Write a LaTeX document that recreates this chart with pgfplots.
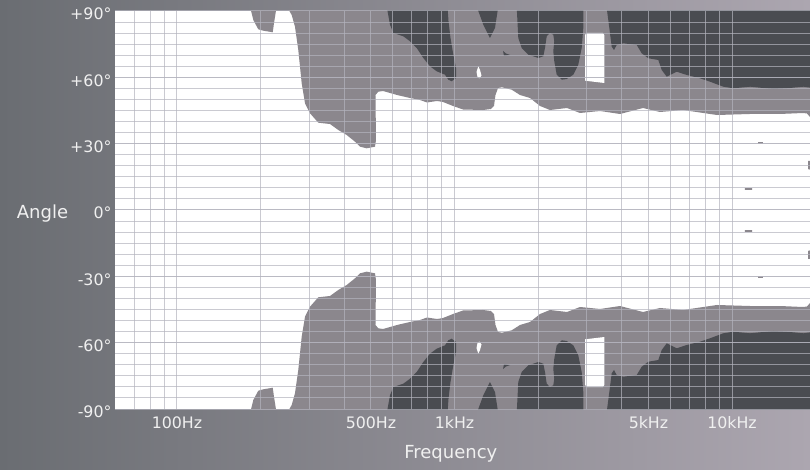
\documentclass[border=0pt]{standalone}
\usepackage{fontspec}
\setmainfont{DejaVu Sans}
\usepackage{pgfplots}
\usepackage{pgfplotstable}
\pgfplotsset{compat=1.18}
\definecolor{midg}{RGB}{139,135,141}
\definecolor{darkg}{RGB}{74,76,81}
\definecolor{gridc}{RGB}{180,180,190}
\definecolor{bgl}{RGB}{106,109,114}
\definecolor{bgr}{RGB}{172,166,176}
\definecolor{txt}{RGB}{240,240,240}

% x = log10(frequency in Hz), a = angle in degrees (upper half; lower half mirrored)
\pgfplotstableread{
f a
2.263 92
2.275 85.93
2.293 81.72
2.311 81.09
2.345 80.37
2.3495 84.44
2.359 92
}\tblNotch
\pgfplotstableread{
f a
2.3964 92
2.4133 88.19
2.4252 82.90
2.4371 72.36
2.4494 57.30
2.4613 48.26
2.4793 43.73
2.5092 39.48
2.5514 38.89
2.5813 36.18
2.6115 33.92
2.6414 30.89
2.6595 28.63
2.6836 27.90
2.7135 28.63
2.7171 31.66
2.7153 52.01
2.7254 53.50
2.7423 53.82
2.7928 52.01
2.8396 50.65
2.8757 49.75
2.9009 48.62
2.9369 49.30
2.9586 48.84
2.9946 47.04
3.0306 45.45
3.1027 45.22
3.1315 45.68
3.1423 47.04
3.1477 52.01
3.1568 55.17
3.1712 55.49
3.2061 54.41
3.2360 52.01
3.2721 50.65
3.3081 47.04
3.3441 45.22
3.4054 46.13
3.4523 43.87
3.5243 44.77
3.5964 43.42
3.6793 46.13
3.7405 44.32
3.8234 45.22
3.9459 42.96
4.0649 43.42
4.1730 43.42
4.2559 43.87
4.2703 43.64
4.2811 42.06
4.3000 40.70
4.3000 92
}\tblMid
\pgfplotstableread{
f a
2.7557 92
2.7676 83.80
2.7795 80.05
2.8155 78.56
2.8396 76.30
2.8638 73.27
2.8876 68.74
2.9117 64.99
2.9359 62.73
2.9658 61.19
2.9777 58.93
2.9899 58.21
3.0054 59.70
3.0054 64.22
2.9957 70.24
2.9856 77.79
2.9784 85.34
2.9748 92
}\tblDarkA
\pgfplotstableread{
f a
3.0800 92
3.1038 83.80
3.1279 77.79
3.1459 82.31
3.1578 92
}\tblDarkB
\pgfplotstableread{
f a
3.2241 92
3.2299 77.79
3.2422 73.27
3.2659 70.24
3.3020 68.74
3.3200 69.51
3.3261 73.27
3.3323 78.56
3.3441 80.05
3.3560 79.28
3.3596 76.30
3.3560 71.77
3.3596 67.25
3.3683 61.19
3.3863 58.93
3.4043 59.25
3.4281 61.19
3.4461 65.71
3.4584 73.27
3.4641 82.31
3.4641 92
}\tblDarkC
\pgfplotstableread{
f a
3.5477 92
3.5542 85.93
3.5665 73.85
3.5748 72.36
3.5845 74.62
3.6083 75.39
3.6566 74.62
3.6746 70.87
3.6984 68.61
3.7344 67.84
3.7467 63.32
3.7647 60.29
3.8007 62.55
3.8368 61.06
3.8847 59.56
3.9207 58.03
3.9686 55.76
4.0047 55.04
4.0649 55.76
4.1488 54.72
4.1971 55.04
4.2569 55.76
4.3000 55.04
4.3000 92
}\tblDarkD
\pgfplotstableread{
f a
3.4703 79.15
3.4775 80.05
3.5351 80.05
3.5398 79.15
3.5398 57.44
3.4703 58.48
}\tblHole
\pgfplotstableread{
f a
3.0858 64.99
3.0793 62.41
3.0829 60.15
3.0894 59.47
3.0973 60.83
3.0919 63.32
}\tblTear
\pgfplotstableread{
f a
3.1748 71.91
3.1856 70.78
3.2000 70.10
3.1784 69.65
}\tblSpot
\pgfplotstableread{
f a
4.0468 9.95
4.0721 9.85
4.0721 9.05
4.0468 9.15
}\tblMarkA
\pgfplotstableread{
f a
4.0937 30.75
4.1117 30.75
4.1117 29.85
4.0937 29.85
}\tblMarkB
\pgfplotstableread{
f a
4.2739 22.16
4.3000 22.16
4.3000 17.64
4.2739 18.50
}\tblMarkC

\begin{document}
\begin{tikzpicture}
\useasboundingbox (0,0) rectangle (810pt,469pt);
\shade[left color=bgl, right color=bgr] (0,0) rectangle (810pt,469pt);
\begin{axis}[
  at={(115pt,60pt)}, anchor=south west,
  width=695pt, height=398pt, scale only axis,
  xmin=1.7766, xmax=4.2811, ymin=-90, ymax=90,
  axis background/.style={fill=white},
  axis on top,
  axis line style={draw=none},
  major tick length=0pt, minor tick length=0pt,
  xtick={2,2.69897,3,3.69897,4},
  xticklabels={100Hz,500Hz,1kHz,5kHz,10kHz},
  minor xtick={1.845098,1.90309,1.954243,2.30103,2.477121,2.60206,2.778151,2.845098,2.90309,2.954243,3.30103,3.477121,3.60206,3.778151,3.845098,3.90309,3.954243},
  ytick={-90,-60,-30,0,30,60,90},
  yticklabels={-90°,-60°,-30°,0°,+30°,+60°,+90°},
  minor ytick={-85,-80,...,85},
  xmajorgrids, xminorgrids, ymajorgrids, yminorgrids,
  grid style={gridc, opacity=0.7, line width=1pt},
  minor grid style={gridc, opacity=0.7, line width=1pt},
  tick label style={color=txt, font=\fontsize{15.8}{18}\selectfont},
  yticklabel style={yshift=-3pt},
  xticklabel style={yshift=-4pt},
  xlabel={Frequency},
  xlabel style={at={(axis description cs:0.4832,0)}, anchor=north, inner sep=0pt, yshift=-36pt, color=txt, font=\fontsize{18}{21}\selectfont},
  ylabel={Angle},
  ylabel style={rotate=-90, at={(axis description cs:0,0.5)}, anchor=west, inner sep=0pt, xshift=-98.3pt, yshift=-3.6pt, color=txt, font=\fontsize{18}{21}\selectfont},
]
% medium level
\addplot[fill=midg, draw=none] table[x=f, y=a] {\tblNotch};
\addplot[fill=midg, draw=none] table[x=f, y expr=-\thisrow{a}] {\tblNotch};
\addplot[fill=midg, draw=none] table[x=f, y=a] {\tblMid};
\addplot[fill=midg, draw=none] table[x=f, y expr=-\thisrow{a}] {\tblMid};
% high level
\addplot[fill=darkg, draw=none] table[x=f, y=a] {\tblDarkA};
\addplot[fill=darkg, draw=none] table[x=f, y expr=-\thisrow{a}] {\tblDarkA};
\addplot[fill=darkg, draw=none] table[x=f, y=a] {\tblDarkB};
\addplot[fill=darkg, draw=none] table[x=f, y expr=-\thisrow{a}] {\tblDarkB};
\addplot[fill=darkg, draw=none] table[x=f, y=a] {\tblDarkC};
\addplot[fill=darkg, draw=none] table[x=f, y expr=-\thisrow{a}] {\tblDarkC};
\addplot[fill=darkg, draw=none] table[x=f, y=a] {\tblDarkD};
\addplot[fill=darkg, draw=none] table[x=f, y expr=-\thisrow{a}] {\tblDarkD};
\addplot[fill=darkg, draw=none] table[x=f, y=a] {\tblSpot};
\addplot[fill=darkg, draw=none] table[x=f, y expr=-\thisrow{a}] {\tblSpot};
% low level holes
\addplot[fill=white, draw=none] table[x=f, y=a] {\tblHole};
\addplot[fill=white, draw=none] table[x=f, y expr=-\thisrow{a}] {\tblHole};
\addplot[fill=white, draw=none] table[x=f, y=a] {\tblTear};
\addplot[fill=white, draw=none] table[x=f, y expr=-\thisrow{a}] {\tblTear};
% small specks
\addplot[fill=midg, draw=none] table[x=f, y=a] {\tblMarkA};
\addplot[fill=midg, draw=none] table[x=f, y expr=-\thisrow{a}] {\tblMarkA};
\addplot[fill=midg, draw=none] table[x=f, y=a] {\tblMarkB};
\addplot[fill=midg, draw=none] table[x=f, y expr=-\thisrow{a}] {\tblMarkB};
\addplot[fill=midg, draw=none] table[x=f, y=a] {\tblMarkC};
\addplot[fill=midg, draw=none] table[x=f, y expr=-\thisrow{a}] {\tblMarkC};
\end{axis}
\end{tikzpicture}
\end{document}
